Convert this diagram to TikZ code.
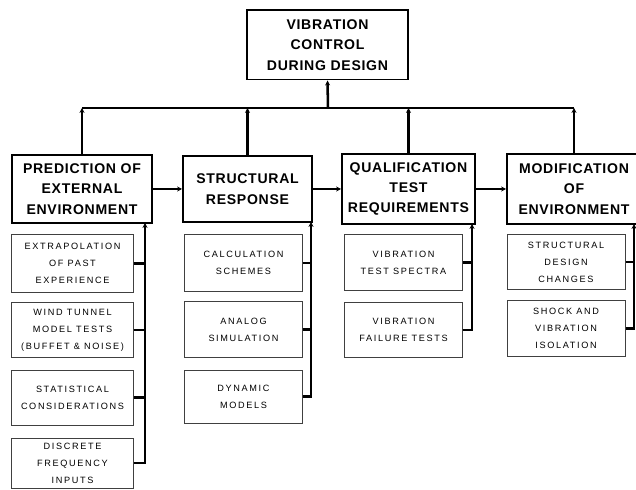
\documentclass[tikz,border=0pt]{standalone}
\usepackage{fontspec}
\setmainfont{Liberation Sans}
\newfontfamily\headfont[LetterSpace=5]{Liberation Sans}
\newfontfamily\subfont[LetterSpace=18]{Liberation Sans}
\usepackage{tikz}
\usetikzlibrary{
    positioning,
    arrows.meta
}

\begin{document}
\begin{tikzpicture}[
    x=0.025cm, y=-0.025cm,
    mainbox/.style={
        rectangle,
        draw,
        line width=1.4pt,
        align=center,
        inner sep=0pt,
        font=\headfont\bfseries\fontsize{10}{14.5}\selectfont
    },
    subbox/.style={
        rectangle,
        draw=black!75,
        line width=0.7pt,
        align=center,
        inner sep=0pt,
        font=\subfont\fontsize{6.5}{12}\selectfont
    },
    arrow/.style={-{Stealth[length=3.5pt,width=3.5pt]}, line width=1.8pt},
    link/.style={line width=1.8pt}
]
\useasboundingbox (0,0) rectangle (636,490);

% top and main boxes
\node[mainbox, minimum width=4.025cm, minimum height=1.725cm] (top) at (327.5,45) {VIBRATION\\CONTROL\\DURING DESIGN};
\node[mainbox, minimum width=3.5cm, minimum height=1.7cm] (pred) at (82,189) {PREDICTION OF\\EXTERNAL\\ENVIRONMENT};
\node[mainbox, minimum width=3.225cm, minimum height=1.65cm] (struct) at (247.5,189) {STRUCTURAL\\RESPONSE};
\node[mainbox, minimum width=3.325cm, minimum height=1.75cm] (qual) at (408.5,189) {QUALIFICATION\\TEST\\REQUIREMENTS};
\node[mainbox, minimum width=3.35cm, minimum height=1.75cm] (modif) at (574,189) {MODIFICATION\\OF\\ENVIRONMENT};

% sub boxes
\node[subbox, minimum width=3.025cm, minimum height=1.425cm] (p1) at (72.5,263.5) {EXTRAPOLATION\\OF PAST\\EXPERIENCE};
\node[subbox, minimum width=3.025cm, minimum height=1.35cm] (p2) at (72.5,330) {WIND TUNNEL\\MODEL TESTS\\(BUFFET \& NOISE)};
\node[subbox, minimum width=3.025cm, minimum height=1.375cm] (p3) at (72.5,397.5) {STATISTICAL\\CONSIDERATIONS};
\node[subbox, minimum width=3.025cm, minimum height=1.25cm] (p4) at (72.5,463) {DISCRETE\\FREQUENCY\\INPUTS};

\node[subbox, minimum width=2.925cm, minimum height=1.4cm] (s1) at (243.5,263) {CALCULATION\\SCHEMES};
\node[subbox, minimum width=2.925cm, minimum height=1.375cm] (s2) at (243.5,329.5) {ANALOG\\SIMULATION};
\node[subbox, minimum width=2.925cm, minimum height=1.325cm] (s3) at (243.5,396.5) {DYNAMIC\\MODELS};

\node[subbox, minimum width=2.925cm, minimum height=1.375cm] (q1) at (403.5,262.5) {VIBRATION\\TEST SPECTRA};
\node[subbox, minimum width=2.925cm, minimum height=1.35cm] (q2) at (403.5,330) {VIBRATION\\FAILURE TESTS};

\node[subbox, minimum width=2.95cm, minimum height=1.35cm] (m1) at (566,262) {STRUCTURAL\\DESIGN\\CHANGES};
\node[subbox, minimum width=2.95cm, minimum height=1.375cm] (m2) at (566,328.5) {SHOCK AND\\VIBRATION\\ISOLATION};

% bus points
\coordinate (hub) at (328,108);
\coordinate (pbus) at (145,223);
\coordinate (sbus) at (311,222);
\coordinate (qbus) at (472,224);
\coordinate (mbus) at (634,224);

% upper tree
\draw[arrow] (hub) -- (top.south);
\draw[link] (pred.north |- hub) -- (modif.north |- hub);
\draw[arrow] (pred.north) -- (pred.north |- hub);
\draw[arrow] (struct.north) -- (struct.north |- hub);
\draw[arrow] (qual.north) -- (qual.north |- hub);
\draw[arrow] (modif.north) -- (modif.north |- hub);

% main chain
\draw[arrow] (pred) -- (struct);
\draw[arrow] (struct) -- (qual);
\draw[arrow] (qual) -- (modif);

% column buses
\draw[link] (p1.east) -- (p1.east -| pbus);
\draw[link] (p2.east) -- (p2.east -| pbus);
\draw[link] (p3.east) -- (p3.east -| pbus);
\draw[arrow] (p4.east) -| (pbus);

\draw[link] (s1.east) -- (s1.east -| sbus);
\draw[link] (s2.east) -- (s2.east -| sbus);
\draw[arrow] (s3.east) -| (sbus);

\draw[link] (q1.east) -- (q1.east -| qbus);
\draw[arrow] (q2.east) -| (qbus);

\draw[link] (m1.east) -- (m1.east -| mbus);
\draw[arrow] (m2.east) -| (mbus);

\end{tikzpicture}
\end{document}
